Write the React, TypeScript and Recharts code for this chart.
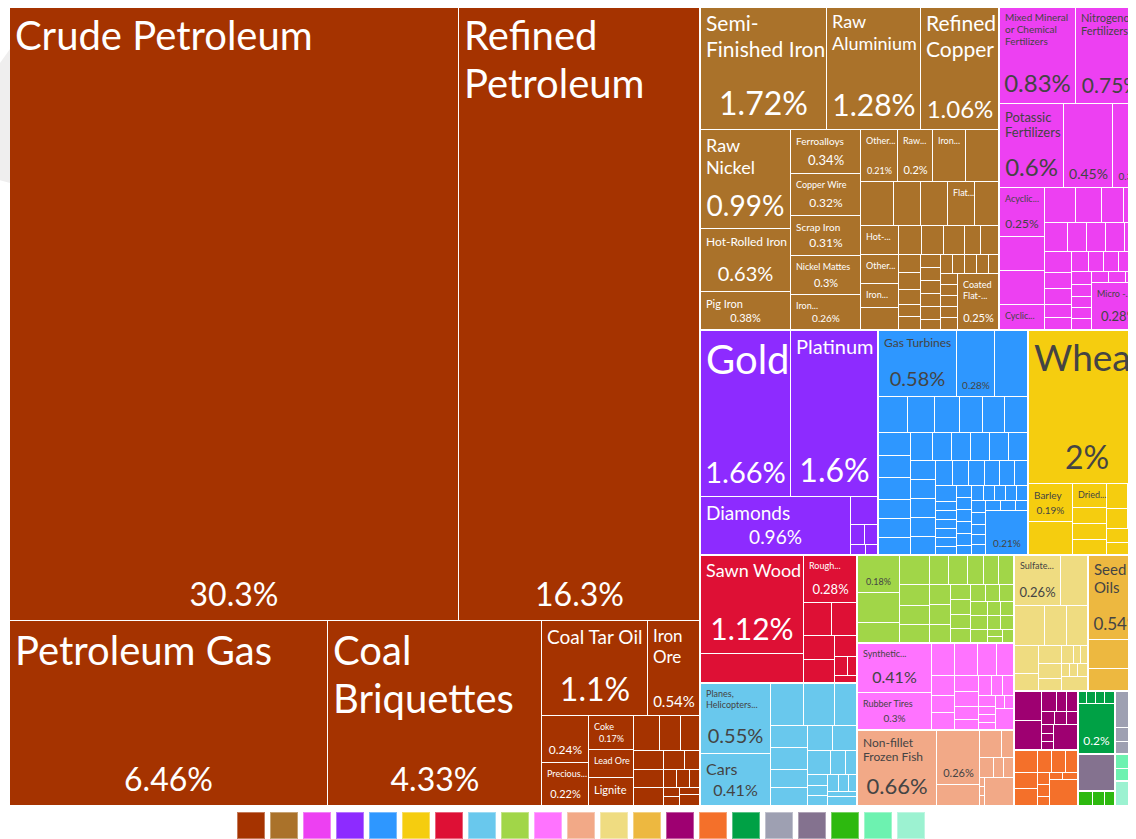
import React from "react";
import { Treemap } from "recharts";

type Item = [string, number];

// share of total exports, %
const mineralProducts: Item[] = [
  ["Crude Petroleum", 30.3],
  ["Refined Petroleum", 16.3],
  ["Petroleum Gas", 6.46],
  ["Coal Briquettes", 4.33],
  ["Coal Tar Oil", 1.1],
  ["Iron Ore", 0.54],
  ["Bituminous Substances", 0.24],
  ["Precious Metal Ore", 0.22],
  ["Coke", 0.17],
  ["Lead Ore", 0.14],
  ["Lignite", 0.13],
  ["Nickel Ore", 0.1],
  ["Petroleum Coke", 0.08],
  ["Aluminium Ore", 0.076],
  ["Manganese Ore", 0.063],
  ["Chromium Ore", 0.058],
  ["Titanium Ore", 0.057],
  ["Molybdenum Ore", 0.043],
  ["Asphalt Mixtures", 0.03],
  ["Bitumen and Asphalt", 0.026],
  ["Tungsten Ore", 0.026],
  ["Petroleum Jelly", 0.02],
  ["Dolomite", 0.016],
  ["Gypsum", 0.016],
  ["Sulphur", 0.016],
  ["Asbestos", 0.016],
];

const metals: Item[] = [
  ["Semi-Finished Iron", 1.72],
  ["Raw Aluminium", 1.28],
  ["Refined Copper", 1.06],
  ["Raw Nickel", 0.99],
  ["Hot-Rolled Iron", 0.63],
  ["Pig Iron", 0.38],
  ["Ferroalloys", 0.34],
  ["Copper Wire", 0.32],
  ["Scrap Iron", 0.31],
  ["Nickel Mattes", 0.3],
  ["Iron Reductions", 0.26],
  ["Other Aluminium Products", 0.21],
  ["Raw Copper", 0.2],
  ["Iron Structures", 0.19],
  ["Aluminium Plating", 0.18],
  ["Aluminium Bars", 0.16],
  ["Copper Bars", 0.13],
  ["Stainless Steel Ingots", 0.13],
  ["Flat Flat-Rolled Steel", 0.13],
  ["Cold-Rolled Iron", 0.12],
  ["Hot-Rolled Iron Bars", 0.12],
  ["Other Small Iron Pipes", 0.12],
  ["Iron Pipes", 0.1],
  ["Aluminium Wire", 0.088],
  ["Titanium", 0.074],
  ["Stranded Aluminium Wire", 0.07],
  ["Aluminium Foil", 0.068],
  ["Magnesium", 0.052],
  ["Stainless Steel Wire", 0.048],
  ["Tungsten", 0.043],
  ["Railway Track Materials", 0.041],
  ["Molybdenum", 0.036],
  ["Aluminium Pipes", 0.029],
  ["Copper Plating", 0.028],
  ["Copper Pipes", 0.028],
  ["Copper Foil", 0.028],
  ["Nickel Bars", 0.028],
  ["Nickel Sheets", 0.028],
  ["Nickel Pipes", 0.028],
  ["Aluminium Structures", 0.027],
  ["Cadmium", 0.025],
  ["Tantalum", 0.025],
  ["Bismuth", 0.025],
  ["Cermets", 0.025],
  ["Cobalt", 0.021],
  ["Beryllium", 0.021],
  ["Zirconium", 0.021],
  ["Antimony", 0.021],
  ["Manganese", 0.021],
  ["Chromium", 0.021],
  ["Coated Flat-Rolled Iron", 0.25],
];

const chemicalProducts: Item[] = [
  ["Mixed Mineral or Chemical Fertilizers", 0.83],
  ["Nitrogenous Fertilizers", 0.75],
  ["Potassic Fertilizers", 0.6],
  ["Phosphatic Fertilizers", 0.45],
  ["Ammonia", 0.3],
  ["Acyclic Alcohols", 0.25],
  ["Heterocyclic Compounds", 0.17],
  ["Hydrochloric Acid", 0.17],
  ["Cyclic Hydrocarbons", 0.13],
  ["Polycarboxylic Acids", 0.12],
  ["Nitrogen Compounds", 0.1],
  ["Sulfuric Acid", 0.085],
  ["Phosphoric Acid", 0.082],
  ["Insecticides", 0.072],
  ["Carbon Black", 0.062],
  ["Activated Carbon", 0.062],
  ["Hydrazine", 0.062],
  ["Synthetic Coloring Matter", 0.062],
  ["Ketones", 0.062],
  ["Alcohols", 0.047],
  ["Aldehydes", 0.047],
  ["Industrial Fatty Acids", 0.04],
  ["Detergents", 0.037],
  ["Packaged Medicaments", 0.037],
  ["Fluorides", 0.034],
  ["Chlorides", 0.033],
  ["Sulfates", 0.03],
  ["Nitrites", 0.03],
  ["Phosphides", 0.028],
  ["Carbides", 0.027],
  ["Silicates", 0.025],
  ["Borates", 0.025],
  ["Peroxides", 0.025],
  ["Glues", 0.021],
  ["Explosives", 0.021],
  ["Fireworks", 0.012],
  ["Photographic Film", 0.012],
  ["Micro - Organisms", 0.28],
];

const preciousMetals: Item[] = [
  ["Gold", 1.66],
  ["Platinum", 1.6],
  ["Diamonds", 0.96],
  ["Silver", 0.083],
  ["Precious Stones", 0.03],
  ["Synthetic Stones", 0.028],
  ["Jewellery", 0.016],
  ["Gold Clad Metals", 0.014],
];

const machines: Item[] = [
  ["Gas Turbines", 0.58],
  ["Centrifuges", 0.28],
  ["Electric Generating Sets", 0.24],
  ["Computers", 0.12],
  ["Broadcasting Equipment", 0.107],
  ["Transmissions", 0.1],
  ["Telephones", 0.09],
  ["Excavation Machinery", 0.087],
  ["Insulated Wire", 0.083],
  ["Electrical Transformers", 0.082],
  ["Refrigerators", 0.078],
  ["Electric Motors", 0.078],
  ["Industrial Machinery", 0.07],
  ["Compressors", 0.068],
  ["Nuclear Reactors", 0.067],
  ["Semiconductor Devices", 0.067],
  ["Integrated Circuits", 0.058],
  ["Electrical Control Boards", 0.058],
  ["Signalling Equipment", 0.058],
  ["Combustion Engines", 0.058],
  ["Ball Bearings", 0.058],
  ["Engine Parts", 0.052],
  ["Industrial Printers", 0.052],
  ["Electrical Capacitors", 0.052],
  ["Liquid Pumps", 0.052],
  ["Machine Tools", 0.05],
  ["Electric Heaters", 0.046],
  ["Washing Machines", 0.043],
  ["Vacuum Cleaners", 0.043],
  ["Lifting Machinery", 0.04],
  ["Drilling Machines", 0.04],
  ["Batteries", 0.04],
  ["Microphones", 0.037],
  ["Metal Molds", 0.02],
  ["Circuit Boards", 0.02],
  ["Electric Furnaces", 0.02],
  ["Heating Elements", 0.02],
  ["Railway Signals", 0.02],
  ["Welding Machines", 0.02],
  ["Sewing Machines", 0.019],
  ["Spark Plugs", 0.019],
  ["Air Conditioners", 0.019],
  ["Office Machine Parts", 0.019],
  ["Video Displays", 0.019],
  ["Cranes", 0.019],
  ["Packing Machines", 0.019],
  ["Printing Machines", 0.018],
  ["Dishwashers", 0.018],
  ["Textile Machinery", 0.018],
  ["Rolling Machines", 0.018],
  ["Boilers", 0.018],
  ["Steam Turbines", 0.018],
  ["Hand Tools", 0.016],
  ["Loudspeakers", 0.016],
  ["Vending Machines", 0.016],
  ["Water Heaters", 0.016],
  ["Conveyor Belts", 0.016],
  ["Blank Audio Media", 0.016],
  ["Hydraulic Turbines", 0.21],
];

const vegetableProducts: Item[] = [
  ["Wheat", 2],
  ["Barley", 0.19],
  ["Sunflower Seeds", 0.16],
  ["Dried Legumes", 0.09],
  ["Buckwheat", 0.06],
  ["Rapeseed", 0.058],
  ["Soybeans", 0.058],
  ["Linseed", 0.058],
  ["Sorghum", 0.05],
  ["Chickpeas", 0.045],
  ["Millet", 0.04],
  ["Mustard Seeds", 0.035],
  ["Frozen Vegetables", 0.03],
  ["Rice", 0.02],
  ["Malt", 0.02],
];

const woodProducts: Item[] = [
  ["Sawn Wood", 1.12],
  ["Particle Board", 0.33],
  ["Rough Wood", 0.28],
  ["Veneer Sheets", 0.1],
  ["Plywood", 0.094],
  ["Fibreboard", 0.082],
  ["Wooden Boxes", 0.075],
  ["Railway Sleepers", 0.05],
  ["Wooden Tools", 0.026],
  ["Wood Charcoal", 0.02],
  ["Wood Wool", 0.02],
];

const transportation: Item[] = [
  ["Planes, Helicopters, and/or Spacecraft", 0.55],
  ["Cars", 0.41],
  ["Vehicle Parts", 0.156],
  ["Railway Cargo Cars", 0.146],
  ["Delivery Trucks", 0.104],
  ["Tractors", 0.09],
  ["Aircraft Parts", 0.09],
  ["Passenger and Cargo Ships", 0.074],
  ["Locomotives", 0.073],
  ["Large Construction Vehicles", 0.069],
  ["Locomotive Parts", 0.066],
  ["Special Purpose Ships", 0.06],
  ["Motorcycles", 0.04],
  ["Trailers", 0.029],
  ["Railway Passenger Cars", 0.025],
  ["Vehicle Bodies", 0.022],
  ["Tug Boats", 0.02],
  ["Fishing Ships", 0.02],
  ["Bicycles", 0.018],
  ["Armoured Vehicles", 0.017],
  ["Floating Docks", 0.015],
  ["Gliders", 0.015],
];

const foodstuffs: Item[] = [
  ["Confectionery Sugar", 0.18],
  ["Vegetable Residues", 0.14],
  ["Undenatured Ethyl Alcohol", 0.1],
  ["Other Edible Preparations", 0.098],
  ["Baked Goods", 0.069],
  ["Processed Fish", 0.063],
  ["Hard Liquor", 0.061],
  ["Rolled Tobacco", 0.061],
  ["Sauces and Seasonings", 0.061],
  ["Animal Food", 0.053],
  ["Pasta", 0.05],
  ["Beer", 0.05],
  ["Mineral Water", 0.046],
  ["Coffee and Tea Extracts", 0.046],
  ["Chocolate", 0.045],
  ["Ice Cream", 0.033],
  ["Flavored Water", 0.033],
  ["Wine", 0.03],
  ["Raw Sugar", 0.03],
  ["Malt Extract", 0.028],
  ["Processed Cereals", 0.026],
  ["Fruit Juice", 0.026],
  ["Wheat Flours", 0.026],
  ["Tobacco", 0.026],
  ["Soups and Broths", 0.024],
  ["Cereal Flours", 0.02],
  ["Vinegar", 0.02],
  ["Yeast", 0.02],
  ["Jams", 0.02],
  ["Pickled Foods", 0.011],
  ["Cereal Meal", 0.011],
  ["Sparkling Wine", 0.011],
];

const plasticsRubbers: Item[] = [
  ["Synthetic Rubber", 0.41],
  ["Rubber Tires", 0.3],
  ["Propylene Polymers", 0.084],
  ["Ethylene Polymers", 0.084],
  ["Polyacetals", 0.067],
  ["Plastic Lids", 0.06],
  ["Raw Plastic Sheeting", 0.05],
  ["Styrene Polymers", 0.043],
  ["Rubber Pipes", 0.041],
  ["Plastic Pipes", 0.041],
  ["Acrylic Polymers", 0.04],
  ["Rubber Belts", 0.033],
  ["Plastic Building Materials", 0.03],
  ["Other Rubber Products", 0.029],
  ["Compounded Rubber", 0.024],
  ["Reclaimed Rubber", 0.024],
  ["Plastic Housewares", 0.021],
  ["Rubber Apparel", 0.014],
  ["Hard Rubber", 0.014],
  ["Rubber Thread", 0.014],
  ["Plastic Floor Coverings", 0.013],
  ["Cellulose", 0.013],
  ["Vinyl Chloride Polymers", 0.046],
];

const animalProducts: Item[] = [
  ["Non-fillet Frozen Fish", 0.66],
  ["Crustaceans", 0.26],
  ["Fish Fillets", 0.1],
  ["Poultry Meat", 0.068],
  ["Molluscs", 0.036],
  ["Frozen Bovine Meat", 0.031],
  ["Fish Meal", 0.021],
  ["Eggs", 0.021],
  ["Butter", 0.005],
  ["Cheese", 0.005],
  ["Honey", 0.005],
  ["Pig Meat", 0.089],
];

const paperGoods: Item[] = [
  ["Sulfate Chemical Woodpulp", 0.26],
  ["Newsprint", 0.15],
  ["Uncoated Kraft Paper", 0.136],
  ["Kraft Paper", 0.097],
  ["Coated Paper", 0.088],
  ["Uncoated Paper", 0.077],
  ["Toilet Paper", 0.044],
  ["Cartons", 0.044],
  ["Paperboard", 0.037],
  ["Sulfite Chemical Woodpulp", 0.033],
  ["Newspapers", 0.024],
  ["Wallpaper", 0.014],
  ["Labels", 0.014],
  ["Printed Books", 0.012],
  ["Mechanical Woodpulp", 0.012],
  ["Recovered Paper", 0.012],
  ["Paper Containers", 0.046],
];

const biProducts: Item[] = [
  ["Seed Oils", 0.54],
  ["Soybean Oil", 0.175],
  ["Rapeseed Oil", 0.13],
  ["Animal Fats", 0.02],
];

const textiles: Item[] = [
  ["Synthetic Filament Yarn", 0.092],
  ["Synthetic Fabrics", 0.086],
  ["Carpets", 0.035],
  ["Knitted Fabrics", 0.024],
  ["Cotton Yarn", 0.022],
  ["Used Clothing", 0.019],
  ["Textile Wall Coverings", 0.017],
  ["Nonwoven Textiles", 0.016],
  ["Synthetic Staple Fibers", 0.012],
  ["Tarpaulins", 0.011],
  ["Ropes", 0.011],
  ["Packing Bags", 0.068],
];

const stoneAndGlass: Item[] = [
  ["Glass Bottles", 0.06],
  ["Float Glass", 0.042],
  ["Refractory Bricks", 0.042],
  ["Ceramic Bricks", 0.035],
  ["Cement", 0.035],
  ["Glass Fibers", 0.03],
  ["Mineral Wool", 0.015],
  ["Building Stone", 0.015],
  ["Porcelain Tableware", 0.013],
  ["Abrasive Powder", 0.01],
  ["Glass Bulbs", 0.01],
  ["Glass Balls", 0.08],
];

const instruments: Item[] = [
  ["Optical Fibers", 0.013],
  ["Measuring Instruments", 0.013],
  ["Oscilloscopes", 0.013],
  ["Thermostats", 0.013],
  ["Medical Instruments", 0.2],
];

const miscellaneous: Item[] = [
  ["Prefabricated Buildings", 0.08],
  ["Lighting Fixtures", 0.05],
  ["Mattresses", 0.035],
  ["Furniture", 0.03],
  ["Cigarette Lighters", 0.025],
];

const weapons: Item[] = [["Ammunition", 0.15]];

const footwear: Item[] = [
  ["Rubber Footwear", 0.025],
  ["Leather Footwear", 0.02],
  ["Knitted Hats", 0.018],
];

const animalHides: Item[] = [
  ["Raw Furskins", 0.05],
  ["Bovine Hides", 0.04],
];

const artsAntiques: Item[] = [["Paintings", 0.06]];

const sectorNames = [
  "Mineral Products",
  "Metals",
  "Chemical Products",
  "Precious Metals",
  "Machines",
  "Vegetable Products",
  "Wood Products",
  "Transportation",
  "Foodstuffs",
  "Plastics and Rubbers",
  "Animal Products",
  "Paper Goods",
  "Animal and Vegetable Bi-Products",
  "Textiles",
  "Stone And Glass",
  "Instruments",
  "Miscellaneous",
  "Weapons",
  "Footwear and Headwear",
  "Animal Hides",
  "Arts and Antiques",
];

const sectorItems: Item[][] = [
  mineralProducts,
  metals,
  chemicalProducts,
  preciousMetals,
  machines,
  vegetableProducts,
  woodProducts,
  transportation,
  foodstuffs,
  plasticsRubbers,
  animalProducts,
  paperGoods,
  biProducts,
  textiles,
  stoneAndGlass,
  instruments,
  miscellaneous,
  weapons,
  footwear,
  animalHides,
  artsAntiques,
];

const sectorColors = [
  "#A53300",
  "#AA722A",
  "#ED40F2",
  "#8D2BFF",
  "#2E97FF",
  "#F5CD0F",
  "#DE1035",
  "#69C8ED",
  "#A1D648",
  "#FF73FF",
  "#F2A987",
  "#EFDC81",
  "#EDB840",
  "#9E0071",
  "#F4702A",
  "#00A145",
  "#9EA0B2",
  "#84728F",
  "#2DB90F",
  "#6DF2B0",
  "#9CF2D1",
];

// boxes the reference shows without a name, or without any text
const unnamed = new Set([
  "Particle Board",
  "Soybean Oil",
  "Rapeseed Oil",
  "Phosphatic Fertilizers",
  "Fish Fillets",
  "Pig Meat",
  "Aircraft Parts",
]);
const silent = new Set(["Ammunition", "Sunflower Seeds", "Heterocyclic Compounds", "Hydrochloric Acid"]);

const treeData = sectorNames.map((name, i) => ({
  name,
  children: sectorItems[i].map(([n, v]) => ({ name: n, value: v })),
}));

const sectorOf: Record<string, number> = {};
sectorItems.forEach((items, i) => items.forEach(([n]) => (sectorOf[n] = i)));

const FONT = "Lato";
const PAD = 5;
const LINE = 1.2;
// Lato words run a little wider than the original narrow UI face
const NAME_FACTOR = 0.97;

let ctx: CanvasRenderingContext2D | null = null;
const textWidth = (text: string, size: number, factor: number) => {
  if (!ctx) ctx = document.createElement("canvas").getContext("2d");
  ctx!.font = `${size}px ${FONT}`;
  return ctx!.measureText(text).width * factor;
};

type Token = { text: string; glue: boolean };
const splitWords = (s: string): Token[] => {
  const out: Token[] = [];
  s.split(" ")
    .filter(Boolean)
    .forEach((word) => {
      const parts = word.match(/[^-/]+[-/]?|[-/]/g) || [word];
      parts.forEach((p, i) => out.push({ text: p, glue: i > 0 }));
    });
  return out;
};

const wrap = (tokens: Token[], size: number, maxW: number, maxH: number, factor: number) => {
  const lh = size * LINE;
  const lines: string[] = [];
  let cur = "";
  for (const tok of tokens) {
    const cand = cur ? cur + (tok.glue ? "" : " ") + tok.text : tok.text;
    if (textWidth(cand, size, factor) <= maxW) {
      cur = cand;
      continue;
    }
    if (!cur) return { lines, truncated: true };
    if ((lines.length + 1) * lh > maxH) return { lines, truncated: true };
    lines.push(cur);
    if ((lines.length + 1) * lh > maxH) return { lines, truncated: true };
    cur = tok.text;
    if (textWidth(cur, size, factor) > maxW) return { lines, truncated: true };
  }
  if (cur) {
    if ((lines.length + 1) * lh > maxH) return { lines, truncated: true };
    lines.push(cur);
  }
  return { lines, truncated: false };
};

// font resizing in the manner of d3plus text boxes
const fitText = (text: string, w: number, h: number, fMax: number, fMin: number, factor: number) => {
  if (w <= fMin || h <= fMin * LINE) return null;
  const tokens = splitWords(text);
  let fs = fMax;
  const sizes = tokens.map((t) => textWidth(t.text, fs, factor));
  const areaMod = 1.165 + (w / h) * 0.1;
  const textArea = sizes.reduce((a, b) => a + b, 0) * fs * 1.2 * areaMod;
  const maxWidth = Math.max(...sizes);
  if (maxWidth > w || textArea > w * h) {
    fs = Math.floor(fs * Math.min(Math.sqrt((w * h) / textArea), w / maxWidth));
  }
  fs = Math.min(fs, Math.floor(h * 0.8));
  for (;;) {
    fs = Math.max(fMin, Math.min(fMax, fs));
    const res = wrap(tokens, fs, w, h, factor);
    if (!res.truncated) return { lines: res.lines, size: fs };
    if (fs <= fMin) {
      if (!res.lines.length) return null;
      const lines = res.lines.slice();
      lines[lines.length - 1] = lines[lines.length - 1].replace(/[.,]$/, "") + "...";
      return { lines, size: fs };
    }
    fs -= 1;
  }
};

const fmtShare = (v: number) => `${v >= 10 ? +v.toFixed(1) : +v.toFixed(2)}%`;

const labelColor = (hex: string) => {
  const r = parseInt(hex.slice(1, 3), 16);
  const g = parseInt(hex.slice(3, 5), 16);
  const b = parseInt(hex.slice(5, 7), 16);
  return (r * 299 + g * 587 + b * 114) / 1000 >= 128 ? "#444444" : "#FFFFFF";
};

const renderCell = (props: any) => {
  const { x, y, width: w, height: h, depth, name, value, root } = props;
  if (depth !== 2 || !(w > 0) || !(h > 0)) return null;
  const color = sectorColors[sectorOf[name]] || "#cccccc";
  let l = 0;
  let t = 0;
  if (root && root.depth === 1) {
    if (x <= root.x + 0.01) l = 1;
    if (y <= root.y + 0.01) t = 1;
  }
  let sh = Math.min(50, (h - PAD * 2) * 0.5);
  if (sh < 10) sh = 0;
  const quiet = silent.has(name);
  const nameFit =
    quiet || unnamed.has(name) ? null : fitText(name, w - PAD * 2, h - sh - PAD * 2, 40, 9, NAME_FACTOR);
  const shareFit = sh && !quiet ? fitText(fmtShare(value), w - PAD * 2, sh, 32, 8.5, 1) : null;
  const ink = labelColor(color);
  return (
    <g>
      <rect x={x + l} y={y + t} width={Math.max(0, w - l - 1)} height={Math.max(0, h - t - 1)} fill={color} />
      {nameFit &&
        nameFit.lines.map((line, i) => (
          <text
            key={i}
            x={x + PAD + l}
            y={y + PAD + i * nameFit.size * LINE + nameFit.size * 0.97}
            fontSize={nameFit.size}
            fontFamily={FONT}
            fill={ink}
          >
            {line}
          </text>
        ))}
      {shareFit && (
        <text
          x={x + w / 2}
          y={y + h - PAD - shareFit.size * 0.3}
          fontSize={shareFit.size}
          fontFamily={FONT}
          textAnchor="middle"
          fill={ink}
        >
          {shareFit.lines[0]}
        </text>
      )}
    </g>
  );
};

export default function App() {
  return (
    <>
      <div
        style={{
          position: "absolute",
          left: 0,
          top: 49,
          width: 10,
          height: 134,
          background: "#EFEEEE",
          clipPath: "polygon(0 14px, 100% 0, 100% 100%, 0 98%)",
        }}
      />
      <div style={{ position: "relative", width: 1128, overflow: "hidden", marginTop: -2 }}>
        <div style={{ marginLeft: 1 }}>
          <Treemap
            width={1137}
            height={800}
            data={treeData}
            dataKey="value"
            nameKey="name"
            aspectRatio={1.52}
            isAnimationActive={false}
            content={renderCell}
          />
        </div>
        <div
          style={{
            width: 1146,
            display: "flex",
            justifyContent: "center",
            gap: 5,
            marginTop: 6,
          }}
        >
          {sectorColors.map((c, i) => (
            <div
              key={sectorNames[i]}
              title={sectorNames[i]}
              style={{
                width: 28,
                height: 27,
                background: c,
                boxShadow: "inset 0 0 0 1px rgba(255,255,255,0.35)",
              }}
            />
          ))}
        </div>
      </div>
    </>
  );
}
